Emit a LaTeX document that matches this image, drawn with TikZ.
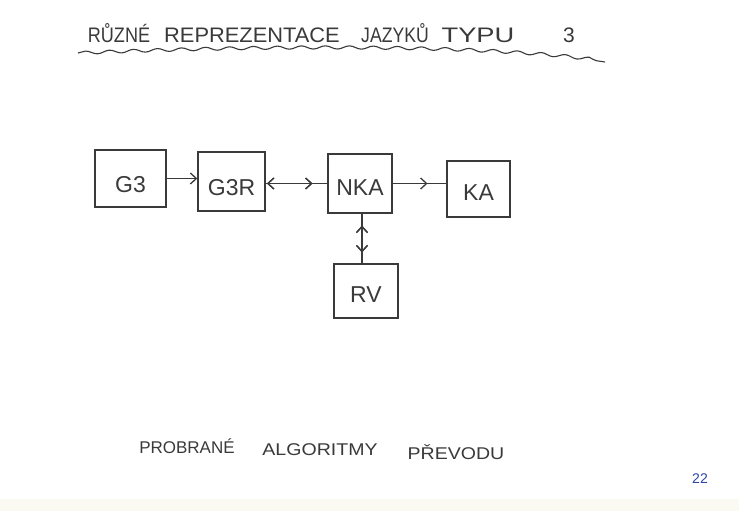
\documentclass[tikz,border=0pt]{standalone}
\usepackage{fontspec}
\setmainfont{Liberation Sans}
\usetikzlibrary{arrows.meta,decorations.pathmorphing,decorations.markings}
\definecolor{ink}{HTML}{3A3A3A}
\definecolor{blueink}{HTML}{2B45A8}
\definecolor{paperedge}{HTML}{FAF9F2}
\tikzset{
  box/.style={draw=ink, line width=1.4pt, inner sep=0pt, text=ink, text height=0pt, text depth=0pt,
    font=\fontsize{23}{23}\selectfont},
  conn/.style={draw=ink, line width=1.3pt},
  fwdtip/.style={postaction={decorate}, decoration={markings,
      mark=at position #1 with {\arrow{Straight Barb[length=6pt,width=11pt,line width=1.3pt]}}}},
  backtip/.style={postaction={decorate}, decoration={markings,
      mark=at position #1 with {\arrowreversed{Straight Barb[length=6pt,width=11pt,line width=1.3pt]}}}},
  word/.style={text=ink, inner sep=0pt, anchor=base, font=\fontsize{#1}{#1}\selectfont},
}
\begin{document}
\begin{tikzpicture}[x=1pt,y=-1pt]
\useasboundingbox (0,0) rectangle (739,511);
\fill[white] (0,0) rectangle (739,511);
\fill[paperedge] (0,499) rectangle (739,511);
% title
\node[word=21] (t1) at (119,43) {\scalebox{0.86}[1]{RŮZNÉ}};
\node[word=21] (t2) at (252,43) {\scalebox{1.04}[1]{REPREZENTACE}};
\node[word=21] (t3) at (395,43) {\scalebox{0.84}[1]{JAZYKŮ}};
\node[word=21] (t4) at (478,43) {\scalebox{1.3}[1]{TYPU}};
\node[word=21] (t5) at (569,43) {3};
\draw[ink, line width=1.1pt, decorate, decoration={snake, amplitude=1.6pt, segment length=24pt}]
  (78,53) .. controls (300,44) and (500,46) .. (605,62);
% boxes
\node[box, minimum width=71pt, minimum height=57pt] (g3) at (130.5,178.5) {\raisebox{-13.5pt}{G3}};
\node[box, minimum width=67pt, minimum height=59pt] (g3r) at (231.5,181.5) {\raisebox{-13.5pt}{G3R}};
\node[box, minimum width=64pt, minimum height=59pt] (nka) at (360,183.5) {\raisebox{-11.5pt}{NKA}};
\node[box, minimum width=63pt, minimum height=56pt] (ka) at (478.5,189) {\raisebox{-11pt}{KA}};
\node[box, minimum width=64pt, minimum height=54pt] (rv) at (366,291) {\raisebox{-11pt}{RV}};
% connectors
\draw[conn, fwdtip=1] (g3.east) -- (g3r.west |- g3.east);
\draw[conn, backtip=0.02, fwdtip=0.76] (g3r.east |- nka.west) -- (nka.west);
\draw[conn, fwdtip=0.65] (nka.east) -- (ka.west |- nka.east);
\draw[conn, backtip=0.24, fwdtip=0.78] (nka.south -| 362,0) -- (rv.north -| 362,0);
% bottom text
\node[word=17] (b1) at (187,453) {PROBRANÉ};
\node[word=17] (b2) at (320,455) {\scalebox{1.15}[1]{ALGORITMY}};
\node[word=17] (b3) at (456,459) {\scalebox{1.15}[1]{PŘEVODU}};
\node[text=blueink, inner sep=0pt, font=\fontsize{14}{14}\selectfont] (pg) at (700,479) {22};
\end{tikzpicture}
\end{document}
